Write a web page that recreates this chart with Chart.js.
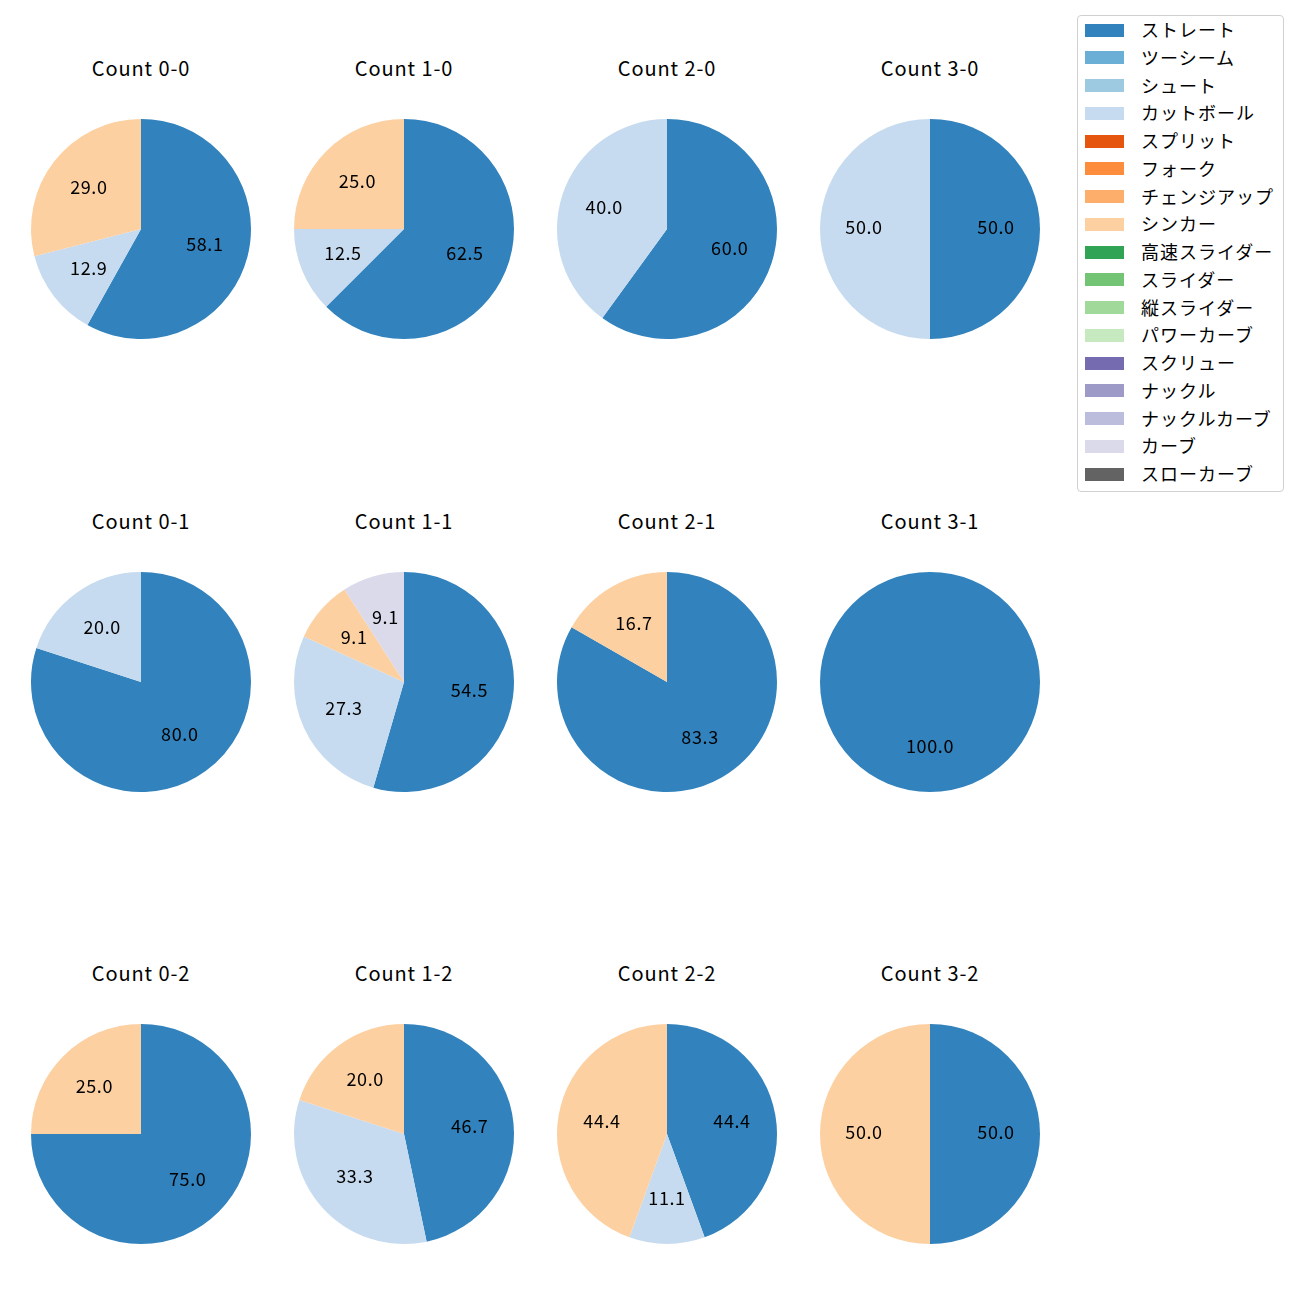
<!DOCTYPE html>
<html>
<head>
<meta charset="utf-8">
<script src="https://cdn.jsdelivr.net/npm/chart.js@4/dist/chart.umd.min.js"></script>
<style>
  html, body { margin:0; padding:0; background:#fff; }
  #root { position:relative; width:1300px; height:1300px; overflow:hidden; font-family:"Noto Sans CJK JP","Noto Sans",sans-serif; }
  .cell { position:absolute; width:240px; height:240px; }
  .title { position:absolute; width:240px; text-align:center; font-size:20px; letter-spacing:0.9px; color:#000; line-height:1; }
  #legend { position:absolute; left:1077px; top:15px; width:207px; height:477px; border:1px solid #d0d0d0; border-radius:4px; box-sizing:border-box; background:#fff; }
  .lg-sw { position:absolute; left:7px; width:39px; height:13px; }
  .lg-tx { position:absolute; left:63px; font-size:18px; letter-spacing:1px; white-space:nowrap; line-height:1; color:#000; }
</style>
</head>
<body>
<div id="root"></div>
<script>
// ---- data ----
const pitchTypes = ["ストレート","ツーシーム","シュート","カットボール","スプリット","フォーク","チェンジアップ","シンカー","高速スライダー","スライダー","縦スライダー","パワーカーブ","スクリュー","ナックル","ナックルカーブ","カーブ","スローカーブ"];
const pitchColors = ["#3182bd","#6baed6","#9ecae1","#c6dbef","#e6550d","#fd8d3c","#fdae6b","#fdd0a2","#31a354","#74c476","#a1d99b","#c7e9c0","#756bb1","#9e9ac8","#bcbddc","#dadaeb","#636363"];
const countLabels = ["Count 0-0","Count 1-0","Count 2-0","Count 3-0","Count 0-1","Count 1-1","Count 2-1","Count 3-1","Count 0-2","Count 1-2","Count 2-2","Count 3-2"];
// percentages per count, in pitchTypes order
const count00 = [58.1,0,0,12.9,0,0,0,29.0,0,0,0,0,0,0,0,0,0];
const count10 = [62.5,0,0,12.5,0,0,0,25.0,0,0,0,0,0,0,0,0,0];
const count20 = [60.0,0,0,40.0,0,0,0,0,0,0,0,0,0,0,0,0,0];
const count30 = [50.0,0,0,50.0,0,0,0,0,0,0,0,0,0,0,0,0,0];
const count01 = [80.0,0,0,20.0,0,0,0,0,0,0,0,0,0,0,0,0,0];
const count11 = [54.5,0,0,27.3,0,0,0,9.1,0,0,0,0,0,0,0,9.1,0];
const count21 = [83.3,0,0,0,0,0,0,16.7,0,0,0,0,0,0,0,0,0];
const count31 = [100.0,0,0,0,0,0,0,0,0,0,0,0,0,0,0,0,0];
const count02 = [75.0,0,0,0,0,0,0,25.0,0,0,0,0,0,0,0,0,0];
const count12 = [46.7,0,0,33.3,0,0,0,20.0,0,0,0,0,0,0,0,0,0];
const count22 = [44.4,0,0,11.1,0,0,0,44.4,0,0,0,0,0,0,0,0,0];
const count32 = [50.0,0,0,0,0,0,0,50.0,0,0,0,0,0,0,0,0,0];
const countValues = [count00,count10,count20,count30,count01,count11,count21,count31,count02,count12,count22,count32];

// ---- layout ----
const colX = [141, 404, 667, 930];
const rowY = [229, 682, 1134];
const titleOffset = -171;

const root = document.getElementById('root');

const pctLabels = {
  id: 'pctLabels',
  afterDatasetsDraw(chart) {
    const ctx = chart.ctx;
    const meta = chart.getDatasetMeta(0);
    const data = chart.data.datasets[0].data;
    ctx.save();
    ctx.font = '18px "Noto Sans CJK JP", "Noto Sans", sans-serif';
    if ('letterSpacing' in ctx) ctx.letterSpacing = '0.6px';
    ctx.fillStyle = '#000';
    ctx.textAlign = 'center';
    ctx.textBaseline = 'middle';
    meta.data.forEach((arc, i) => {
      const v = data[i];
      if (!v) return;
      const p = arc.getProps(['x','y','startAngle','endAngle','outerRadius']);
      const mid = (p.startAngle + p.endAngle) / 2;
      const r = p.outerRadius * 0.6;
      ctx.fillText(v.toFixed(1), p.x + Math.cos(mid) * r, p.y + Math.sin(mid) * r - 1.5);
    });
    ctx.restore();
  }
};

countValues.forEach((vals, k) => {
  const col = k % 4, row = Math.floor(k / 4);
  const cx = colX[col], cy = rowY[row];
  const t = document.createElement('div');
  t.className = 'title';
  t.textContent = countLabels[k];
  t.style.left = (cx - 120) + 'px';
  t.style.top = (cy + titleOffset) + 'px';
  root.appendChild(t);
  const cell = document.createElement('div');
  cell.className = 'cell';
  cell.style.left = (cx - 120) + 'px';
  cell.style.top = (cy - 120) + 'px';
  const cv = document.createElement('canvas');
  cv.width = 240; cv.height = 240;
  cell.appendChild(cv);
  root.appendChild(cell);
  new Chart(cv, {
    type: 'pie',
    data: {
      labels: pitchTypes,
      datasets: [{ data: vals, backgroundColor: pitchColors, borderWidth: 0, hoverOffset: 0 }]
    },
    options: {
      responsive: false,
      animation: false,
      events: [],
      layout: { padding: 10 },
      plugins: { legend: { display: false }, tooltip: { enabled: false } }
    },
    plugins: [pctLabels]
  });
});

// legend
const lg = document.createElement('div');
lg.id = 'legend';
root.appendChild(lg);
const rowStep = 27.75;
pitchTypes.forEach((name, i) => {
  const yc = 14 + i * rowStep;
  const sw = document.createElement('div');
  sw.className = 'lg-sw';
  sw.style.background = pitchColors[i];
  sw.style.top = (yc - 6.5) + 'px';
  lg.appendChild(sw);
  const tx = document.createElement('div');
  tx.className = 'lg-tx';
  tx.textContent = name;
  tx.style.top = (yc - 10) + 'px';
  lg.appendChild(tx);
});
</script>
</body>
</html>
